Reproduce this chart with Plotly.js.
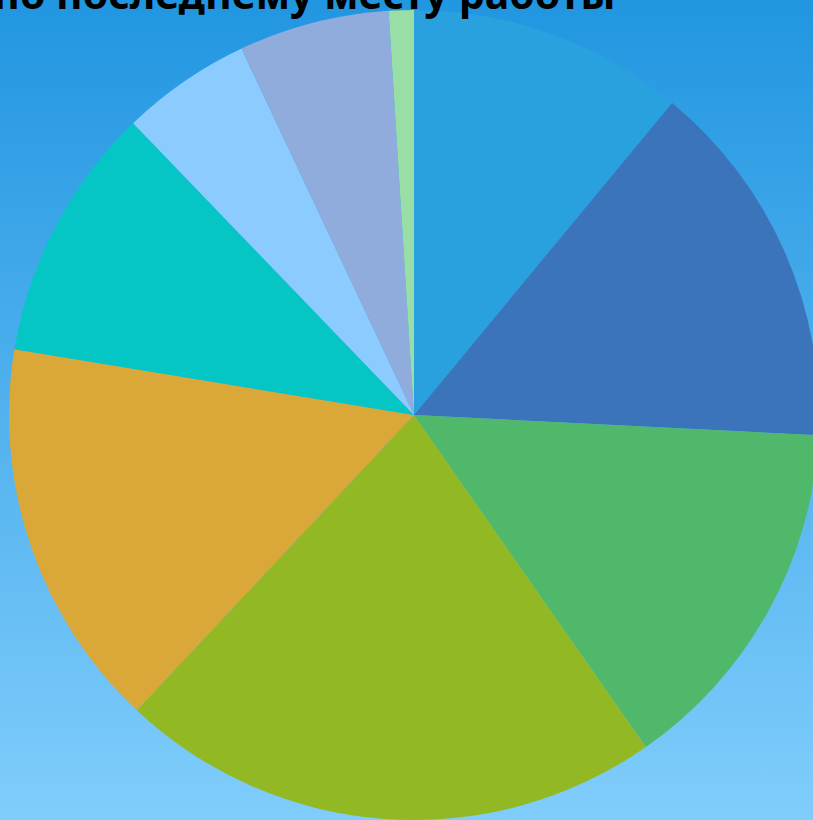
<!DOCTYPE html>
<html>
<head>
<meta charset="utf-8">
<script src="https://cdn.plot.ly/plotly-3.0.1.min.js"></script>
<style>
  html, body { margin: 0; padding: 0; width: 813px; height: 820px; overflow: hidden;
    background: linear-gradient(to bottom, #2196e1 0%, #80cdfb 100%); }
  #chart { position: absolute; left: 0; top: 0; width: 830px; height: 830px; }
</style>
</head>
<body>
<div id="chart"></div>
<script>
const titleText = "Распределение по последнему месту работы";
const categories = ["Категория 1", "Категория 2", "Категория 3", "Категория 4", "Категория 5",
                    "Категория 6", "Категория 7", "Категория 8", "Категория 9"];
const shares = [11.0, 14.8, 14.5, 21.7, 15.6, 10.2, 5.2, 6.0, 1.0];
const sliceColors = ["#2aa1df", "#3b74bb", "#4fb86b", "#92b923", "#d9a838",
                     "#05c6c5", "#8ccbfe", "#8facdd", "#99dea6"];

const W = 830, H = 830;
const trace = {
  type: "pie",
  labels: categories,
  values: shares,
  sort: false,
  direction: "clockwise",
  rotation: 0,
  textinfo: "none",
  hoverinfo: "label+percent",
  marker: { colors: sliceColors, line: { width: 0 } },
  domain: { x: [9 / W, 819 / W], y: [10 / H, 820 / H] }
};

const layout = {
  width: W, height: H,
  margin: { l: 0, r: 0, t: 0, b: 0, pad: 0 },
  paper_bgcolor: "rgba(0,0,0,0)",
  plot_bgcolor: "rgba(0,0,0,0)",
  showlegend: false,
  annotations: [{
    text: "<b>" + titleText + "</b>",
    xref: "paper", yref: "paper",
    x: 617 / W, xanchor: "right",
    y: 1 + 7 / H, yanchor: "middle",
    showarrow: false,
    font: { family: "Noto Sans, Open Sans, sans-serif", size: 41, color: "#000000" }
  }]
};

Plotly.newPlot("chart", [trace], layout, { displayModeBar: false, staticPlot: true });
</script>
</body>
</html>
